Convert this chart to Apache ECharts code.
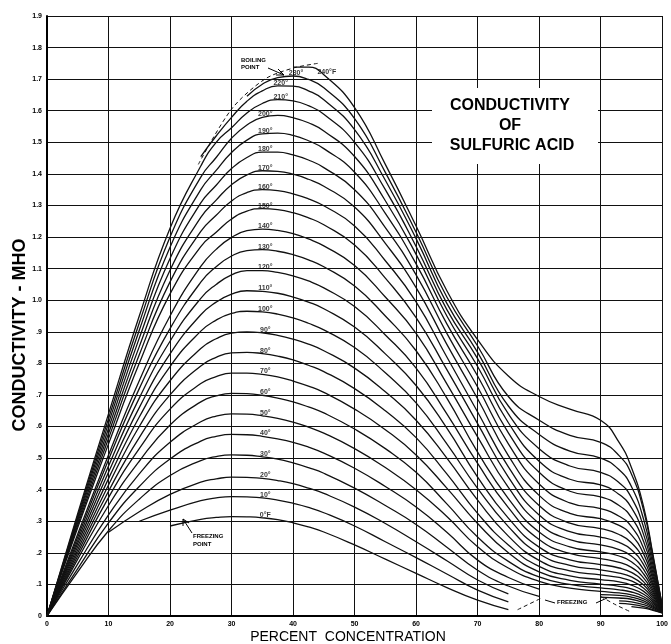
<!DOCTYPE html>
<html>
<head>
<meta charset="utf-8">
<script src="https://cdn.jsdelivr.net/npm/echarts@6/dist/echarts.min.js"></script>
<style>
  html, body { margin: 0; padding: 0; background: #fff; }
  #chart { width: 671px; height: 644px; }
</style>
</head>
<body>
<div id="chart"></div>
<script>
// percent concentration points shared by every curve
const conc = [0, 5, 10, 15, 20, 25, 27.5, 30, 32.5, 35, 37.5, 40, 42.5, 45, 50, 55, 60, 65, 70, 75, 80, 85, 90, 93, 95, 97, 98.5, 100];

// conductivity (mho) per temperature, null = frozen / boiling
const t0   = [null, null, null, null, 0.285, 0.306, 0.312, 0.315, 0.314, 0.311, 0.305, 0.295, 0.282, 0.266, 0.225, 0.18, 0.135, 0.09, 0.05, 0.02, null, null, null, null, 0.03, 0.025, 0.018, 0.01];
const t10  = [null, null, null, 0.30, 0.335, 0.365, 0.374, 0.378, 0.377, 0.374, 0.367, 0.357, 0.344, 0.327, 0.285, 0.235, 0.185, 0.133, 0.082, 0.045, null, null, null, 0.04, 0.037, 0.03, 0.02, 0.01];
const t20  = [null, null, 0.265, 0.33, 0.385, 0.424, 0.434, 0.44, 0.439, 0.436, 0.429, 0.419, 0.405, 0.388, 0.345, 0.293, 0.235, 0.175, 0.114, 0.07, null, null, null, 0.048, 0.045, 0.036, 0.024, 0.011];
const t30  = [0, 0.14, 0.27, 0.37, 0.445, 0.492, 0.505, 0.51, 0.509, 0.504, 0.497, 0.485, 0.47, 0.452, 0.405, 0.35, 0.29, 0.218, 0.145, 0.095, 0.062, null, 0.06, 0.057, 0.053, 0.042, 0.028, 0.012];
const t40  = [0, 0.15, 0.295, 0.41, 0.497, 0.554, 0.569, 0.575, 0.574, 0.569, 0.561, 0.55, 0.535, 0.516, 0.468, 0.41, 0.345, 0.265, 0.177, 0.122, 0.085, null, 0.068, 0.065, 0.06, 0.048, 0.031, 0.013];
const t50  = [0, 0.165, 0.32, 0.45, 0.55, 0.615, 0.633, 0.64, 0.639, 0.634, 0.626, 0.614, 0.598, 0.579, 0.53, 0.47, 0.40, 0.315, 0.219, 0.152, 0.11, 0.088, 0.078, 0.073, 0.067, 0.054, 0.035, 0.014];
const t60  = [0, 0.18, 0.35, 0.49, 0.605, 0.678, 0.697, 0.705, 0.704, 0.699, 0.69, 0.678, 0.662, 0.643, 0.592, 0.53, 0.455, 0.355, 0.25, 0.173, 0.124, 0.10, 0.089, 0.083, 0.076, 0.061, 0.04, 0.015];
const t70  = [0, 0.19, 0.375, 0.53, 0.655, 0.736, 0.758, 0.769, 0.769, 0.765, 0.757, 0.744, 0.728, 0.708, 0.655, 0.59, 0.51, 0.405, 0.293, 0.20, 0.14, 0.113, 0.101, 0.094, 0.086, 0.069, 0.045, 0.016];
const t80  = [0, 0.2, 0.395, 0.565, 0.70, 0.792, 0.819, 0.833, 0.835, 0.831, 0.823, 0.811, 0.794, 0.774, 0.72, 0.65, 0.565, 0.45, 0.325, 0.225, 0.157, 0.127, 0.115, 0.108, 0.098, 0.078, 0.05, 0.017];
const t90  = [0, 0.21, 0.415, 0.60, 0.745, 0.847, 0.878, 0.896, 0.90, 0.897, 0.889, 0.877, 0.861, 0.84, 0.785, 0.71, 0.62, 0.50, 0.367, 0.253, 0.176, 0.143, 0.13, 0.122, 0.111, 0.088, 0.056, 0.018];
const t100 = [0, 0.22, 0.435, 0.63, 0.79, 0.902, 0.937, 0.958, 0.965, 0.963, 0.956, 0.944, 0.927, 0.906, 0.85, 0.77, 0.675, 0.545, 0.404, 0.283, 0.197, 0.16, 0.146, 0.136, 0.124, 0.098, 0.062, 0.019];
const t110 = [0, 0.23, 0.455, 0.66, 0.83, 0.954, 0.994, 1.019, 1.03, 1.028, 1.022, 1.01, 0.994, 0.973, 0.915, 0.83, 0.73, 0.595, 0.44, 0.31, 0.218, 0.178, 0.163, 0.152, 0.138, 0.108, 0.068, 0.02];
const t120 = [0, 0.24, 0.475, 0.69, 0.87, 1.006, 1.05, 1.08, 1.094, 1.094, 1.088, 1.077, 1.061, 1.039, 0.98, 0.89, 0.785, 0.64, 0.483, 0.343, 0.242, 0.198, 0.182, 0.17, 0.154, 0.12, 0.075, 0.021];
const t130 = [0, 0.25, 0.495, 0.72, 0.91, 1.057, 1.106, 1.14, 1.157, 1.16, 1.155, 1.144, 1.128, 1.106, 1.045, 0.95, 0.84, 0.69, 0.519, 0.372, 0.266, 0.219, 0.203, 0.19, 0.172, 0.133, 0.082, 0.022];
const t140 = [0, 0.26, 0.51, 0.745, 0.95, 1.107, 1.161, 1.199, 1.22, 1.225, 1.221, 1.211, 1.194, 1.172, 1.11, 1.01, 0.895, 0.735, 0.567, 0.407, 0.293, 0.242, 0.225, 0.21, 0.19, 0.147, 0.09, 0.023];
const t150 = [0, 0.28, 0.545, 0.80, 1.02, 1.17, 1.215, 1.257, 1.282, 1.29, 1.287, 1.277, 1.261, 1.239, 1.175, 1.07, 0.945, 0.78, 0.609, 0.44, 0.32, 0.267, 0.25, 0.233, 0.21, 0.162, 0.098, 0.024];
const t160 = [0, 0.288, 0.562, 0.827, 1.058, 1.218, 1.269, 1.314, 1.341, 1.35, 1.347, 1.337, 1.321, 1.299, 1.235, 1.125, 0.995, 0.82, 0.646, 0.472, 0.35, 0.294, 0.277, 0.258, 0.232, 0.178, 0.106, 0.025];
const t170 = [0, 0.296, 0.578, 0.853, 1.095, 1.262, 1.317, 1.366, 1.397, 1.41, 1.408, 1.399, 1.383, 1.361, 1.295, 1.18, 1.04, 0.86, 0.688, 0.508, 0.382, 0.325, 0.308, 0.287, 0.257, 0.196, 0.116, 0.026];
const t180 = [0, 0.304, 0.594, 0.88, 1.132, 1.308, 1.364, 1.417, 1.452, 1.469, 1.469, 1.46, 1.444, 1.42, 1.35, 1.23, 1.08, 0.895, 0.725, 0.545, 0.418, 0.358, 0.34, 0.316, 0.283, 0.214, 0.126, 0.027];
const t190 = [0, 0.311, 0.61, 0.905, 1.168, 1.35, 1.411, 1.468, 1.507, 1.527, 1.529, 1.522, 1.505, 1.48, 1.405, 1.275, 1.115, 0.925, 0.76, 0.58, 0.455, 0.395, 0.377, 0.35, 0.312, 0.235, 0.137, 0.028];
const t200 = [0, 0.318, 0.625, 0.928, 1.2, 1.39, 1.452, 1.513, 1.555, 1.579, 1.585, 1.578, 1.562, 1.536, 1.455, 1.315, 1.145, 0.95, 0.79, 0.612, 0.49, 0.433, 0.415, 0.385, 0.343, 0.257, 0.149, 0.029];
const t210 = [0, 0.325, 0.64, 0.95, 1.228, 1.425, 1.50, 1.546, 1.593, 1.623, 1.635, 1.631, 1.616, 1.589, 1.50, 1.35, 1.17, 0.97, 0.815, 0.64, 0.53, 0.475, 0.455, 0.422, 0.375, 0.28, 0.162, 0.03];
const t220 = [null, null, null, null, null, 1.455, 1.52, 1.579, 1.63, 1.663, 1.679, 1.678, 1.663, 1.635, 1.54, 1.38, 1.195, 0.99, 0.835, 0.665, 0.575, 0.522, 0.50, 0.463, 0.41, 0.305, 0.176, 0.031];
const t230 = [null, null, null, null, null, null, null, null, 1.646, 1.684, 1.705, 1.71, 1.699, 1.673, 1.575, 1.405, 1.215, 1.01, 0.855, 0.695, 0.62, 0.572, 0.55, 0.508, 0.45, 0.333, 0.19, 0.032];
const t240 = [null, null, null, null, null, null, null, null, null, null, null, 1.738, 1.738, 1.714, 1.61, 1.43, 1.235, 1.03, 0.875, 0.76, 0.695, 0.655, 0.62, 0.55, 0.47, 0.345, 0.195, 0.034];

const curves = [t0, t10, t20, t30, t40, t50, t60, t70, t80, t90, t100, t110, t120, t130, t140, t150, t160, t170, t180, t190, t200, t210, t220, t230, t240];
const tempLabels = ['0°F', '10°', '20°', '30°', '40°', '50°', '60°', '70°', '80°', '90°', '100°', '110°', '120°', '130°', '140°', '150°', '160°', '170°', '180°', '190°', '200°', '210°', '220°', '230°', '240°F'];
// concentration at which each temperature is written on its curve
const labelAt = [35, 35, 35, 35, 35, 35, 35, 35, 35, 35, 35, 35, 35, 35, 35, 35, 35, 35, 35, 35, 35, 37.5, 37.5, 40, 45];

// boundary lines (dashed)
const boilingLine = [[24.6, 1.43], [30, 1.605], [35.4, 1.70], [40, 1.735], [44, 1.75]];
const freezeLeft = [[76.5, 0.02], [80.5, 0.058]];
const freezeRight = [[90, 0.062], [92.5, 0.035], [95, 0.012]];

const xTicks = [0, 10, 20, 30, 40, 50, 60, 70, 80, 90, 100];

(function () {
  const myChart = echarts.init(document.getElementById('chart'));
  const FONT = 'Liberation Sans, Arial, sans-serif';

  const series = curves.map(function (vals, k) {
    return {
      name: tempLabels[k],
      type: 'line',
      smooth: 0.5,
      symbol: 'none',
      silent: true,
      connectNulls: false,
      lineStyle: { color: '#111', width: 1.3 },
      data: conc.map(function (c, i) { return [c, vals[i] == null ? '-' : vals[i]]; })
    };
  });

  [boilingLine, freezeLeft, freezeRight].forEach(function (pts) {
    series.push({
      type: 'line', smooth: 0.3, symbol: 'none', silent: true,
      lineStyle: { color: '#111', width: 1, type: [4, 3] },
      data: pts
    });
  });

  // temperature labels placed on each curve
  series.push({
    type: 'scatter',
    symbolSize: 0,
    silent: true,
    z: 5,
    label: {
      show: true, position: 'inside', offset: [3, -3],
      color: '#000', fontSize: 7, fontWeight: 'bold', fontFamily: FONT,
      formatter: function (p) { return p.data.name; }
    },
    data: curves.map(function (vals, k) {
      const idx = conc.indexOf(labelAt[k]);
      return { name: tempLabels[k], value: [labelAt[k], vals[idx]] };
    })
  });

  const option = {
    animation: false,
    backgroundColor: '#fff',
    grid: { left: 47, right: 3, top: 16, bottom: 28 },
    xAxis: {
      type: 'value', min: 0, max: 100, interval: 10,
      axisLine: { lineStyle: { color: '#000', width: 2 } },
      axisTick: { show: false },
      axisLabel: {
        color: '#000', fontSize: 7, fontWeight: 'bold', fontFamily: FONT, margin: 5,
        formatter: function (v) { return xTicks.indexOf(v) >= 0 ? String(v) : ''; }
      },
      splitLine: { lineStyle: { color: '#111', width: 1 } }
    },
    yAxis: {
      type: 'value', min: 0, max: 1.9, interval: 0.1,
      axisLine: { lineStyle: { color: '#000', width: 2 } },
      axisTick: { show: false },
      axisLabel: {
        color: '#000', fontSize: 7, fontWeight: 'bold', fontFamily: FONT, margin: 5,
        formatter: function (v) {
          const n = Math.round(v * 10);
          if (n === 0) return '0';
          if (n >= 10) return (n / 10).toFixed(1);
          return '.' + n;
        }
      },
      splitLine: { lineStyle: { color: '#111', width: 1 } }
    },
    graphic: [
      // white patch behind the title
      { type: 'rect', left: 432, top: 88, shape: { width: 166, height: 76 }, style: { fill: '#fff' }, z: 10 },
      { type: 'text', x: 510, y: 106, z: 11, style: { text: 'CONDUCTIVITY', fontSize: 16, fontWeight: 'bold', fontFamily: FONT, fill: '#000', align: 'center', verticalAlign: 'middle' } },
      { type: 'text', x: 510, y: 126, z: 11, style: { text: 'OF', fontSize: 16, fontWeight: 'bold', fontFamily: FONT, fill: '#000', align: 'center', verticalAlign: 'middle' } },
      { type: 'text', x: 512, y: 146, z: 11, style: { text: 'SULFURIC ACID', fontSize: 16, fontWeight: 'bold', fontFamily: FONT, fill: '#000', align: 'center', verticalAlign: 'middle' } },
      // axis titles
      { type: 'text', x: 20, y: 335, rotation: Math.PI / 2, z: 11, style: { text: 'CONDUCTIVITY - MHO', fontSize: 18, fontWeight: 'bold', fontFamily: FONT, fill: '#000', align: 'center', verticalAlign: 'middle' } },
      { type: 'text', x: 348, y: 637, z: 11, style: { text: 'PERCENT  CONCENTRATION', fontSize: 14, fontFamily: FONT, fill: '#000', align: 'center', verticalAlign: 'middle' } },
      // notes
      { type: 'text', x: 241, y: 57, z: 11, style: { text: 'BOILING\nPOINT', fontSize: 6, fontWeight: 'bold', fontFamily: FONT, fill: '#000', lineHeight: 7 } },
      { type: 'line', z: 11, shape: { x1: 268, y1: 68, x2: 284, y2: 75 }, style: { stroke: '#000', lineWidth: 1 } },
      { type: 'polyline', z: 11, shape: { points: [[278, 69], [284, 75], [276, 75]] }, style: { stroke: '#000', lineWidth: 1, fill: null } },
      { type: 'text', x: 193, y: 532, z: 11, style: { text: 'FREEZING\nPOINT', fontSize: 6, fontWeight: 'bold', fontFamily: FONT, fill: '#000', lineHeight: 8 } },
      { type: 'line', z: 11, shape: { x1: 192, y1: 533, x2: 183, y2: 519 }, style: { stroke: '#000', lineWidth: 1 } },
      { type: 'polyline', z: 11, shape: { points: [[183, 526], [183, 519], [189, 523]] }, style: { stroke: '#000', lineWidth: 1, fill: null } },
      { type: 'text', x: 557, y: 599, z: 11, style: { text: 'FREEZING', fontSize: 6, fontWeight: 'bold', fontFamily: FONT, fill: '#000' } },
      { type: 'line', z: 11, shape: { x1: 555, y1: 603, x2: 545, y2: 600 }, style: { stroke: '#000', lineWidth: 1 } },
      { type: 'line', z: 11, shape: { x1: 596, y1: 603, x2: 607, y2: 598 }, style: { stroke: '#000', lineWidth: 1 } }
    ],
    series: series
  };

  myChart.setOption(option);
  window.addEventListener('resize', function () { myChart.resize(); });
})();
</script>
</body>
</html>
